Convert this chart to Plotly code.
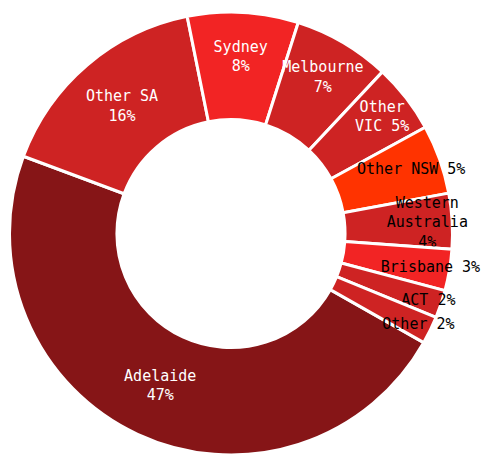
import plotly.graph_objects as go

# Share of responses by location (percent), drawn clockwise
names = ["Adelaide", "Other SA", "Sydney", "Melbourne", "Other<br>VIC",
         "Other NSW", "Western<br>Australia", "Brisbane", "ACT", "Other"]
values = [47, 16, 8, 7, 5, 5, 4, 3, 2, 2]
# how the name and the value are joined in each slice label
joiners = ["<br>", "<br>", "<br>", "<br>", " ", " ", "<br>", " ", " ", " "]

colors = ["#861517", "#CE2323", "#F22424", "#CE2323", "#CE2323",
          "#FF3300", "#CE2323", "#F22424", "#CE2323", "#CE2323"]
text_colors = ["white", "white", "white", "white", "white",
               "black", "black", "black", "black", "black"]

labels_text = [f"{n}{j}{v}%" for n, j, v in zip(names, joiners, values)]

fig = go.Figure(
    go.Pie(
        labels=[n.replace("<br>", " ") for n in names],
        values=values,
        text=labels_text,
        textinfo="text",
        hoverinfo="label+value",
        sort=False,
        direction="clockwise",
        rotation=119.5,
        hole=0.515,
        marker=dict(colors=colors, line=dict(color="white", width=3)),
        textposition="inside",
        insidetextorientation="horizontal",
        insidetextfont=dict(family="DejaVu Sans Mono", size=15, color=text_colors),
        domain=dict(x=[0, 0.9333], y=[0, 0.9736]),
        showlegend=False,
    )
)

fig.update_layout(
    width=495,
    height=455,
    margin=dict(l=0, r=0, t=0, b=0),
    paper_bgcolor="white",
    plot_bgcolor="white",
    uniformtext=dict(minsize=15, mode="show"),
)

fig.write_html("out.html")
